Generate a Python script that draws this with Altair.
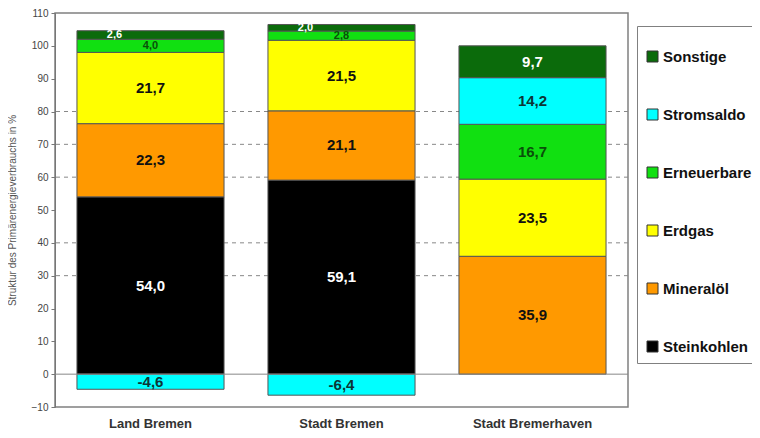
import altair as alt
import pandas as pd

regions = ["Land Bremen", "Stadt Bremen", "Stadt Bremerhaven"]
carriers = ["Steinkohlen", "Mineralöl", "Erdgas", "Erneuerbare", "Stromsaldo", "Sonstige"]
land_bremen = [54.0, 22.3, 21.7, 4.0, -4.6, 2.6]
stadt_bremen = [59.1, 21.1, 21.5, 2.8, -6.4, 2.0]
stadt_bremerhaven = [0.0, 35.9, 23.5, 16.7, 14.2, 9.7]

legend_order = ["Sonstige", "Stromsaldo", "Erneuerbare", "Erdgas", "Mineralöl", "Steinkohlen"]
colors = ["#0b6b0b", "#00ffff", "#11e011", "#ffff00", "#ff9900", "#000000"]
label_colors = {"Steinkohlen": "#ffffff", "Mineralöl": "#111111", "Erdgas": "#111111",
                "Erneuerbare": "#0a4f0a", "Stromsaldo": "#0d3535", "Sonstige": "#ffffff"}
grid_values = [30, 40, 60, 70, 80]
y_ticks = list(range(-10, 111, 10))

rows = []
for region, vals in zip(regions, [land_bremen, stadt_bremen, stadt_bremerhaven]):
    for i, (c, v) in enumerate(zip(carriers, vals)):
        if v == 0:
            continue
        small = 0 < v < 4.5
        rows.append({
            "region": region, "carrier": c, "value": v, "order": i,
            "label": f"{v:.1f}".replace(".", ","),
            "lc": label_colors[c],
            "fs": 11 if small else 15,
            "shift": bool(small and c == "Sonstige"),
        })
df = pd.DataFrame(rows)

yscale = alt.Scale(domain=[-10, 110], nice=False)
yaxis = alt.Axis(values=y_ticks, grid=False, labelOverlap=False, labelFlush=False,
                 title="Struktur des Primärenergieverbrauchs in %",
                 titleFont="Liberation Sans", titleFontSize=10,
                 titleFontWeight="normal", titleColor="#555555",
                 titlePadding=14, labelFont="Liberation Sans",
                 labelFontSize=10, labelColor="#444444",
                 tickColor="#777777", domainColor="#777777",
                 tickSize=4, labelPadding=3)
xaxis = alt.Axis(labelFont="Liberation Sans", labelFontWeight="bold",
                 labelFontSize=13, labelColor="#333333", ticks=False,
                 domain=False, labelPadding=10, labelAngle=0)
xscale = alt.Scale(paddingInner=0.23, paddingOuter=0.115)

base = alt.Chart(df).transform_stack(
    stack="value", groupby=["region"], as_=["y0", "y1"],
    sort=[alt.SortField("order", order="ascending")]
)

bars = base.mark_bar(stroke="#555555", strokeWidth=1).encode(
    x=alt.X("region:N", sort=regions, title=None, scale=xscale, axis=xaxis),
    y=alt.Y("y0:Q", scale=yscale, axis=yaxis),
    y2="y1:Q",
    color=alt.Color("carrier:N",
                    scale=alt.Scale(domain=legend_order, range=colors),
                    legend=alt.Legend(title=" ")),
)

text_enc = dict(
    x=alt.X("region:N", sort=regions, title=None, scale=xscale, axis=xaxis),
    y=alt.Y("mid:Q", scale=yscale, axis=yaxis),
    text="label:N",
    color=alt.Color("lc:N", scale=None),
    size=alt.Size("fs:Q", scale=None),
)
tbase = base.transform_calculate(mid="(datum.y0 + datum.y1) / 2")
texts = tbase.transform_filter("!datum.shift").mark_text(
    font="Liberation Sans", fontWeight="bold").encode(**text_enc)
texts_shift = tbase.transform_filter("datum.shift").mark_text(
    font="Liberation Sans", fontWeight="bold", dx=-36).encode(**text_enc)

grid = alt.Chart(pd.DataFrame({"v": grid_values})).mark_rule(
    color="#888888", strokeDash=[4, 4], strokeWidth=1
).encode(y=alt.Y("v:Q", scale=yscale, axis=yaxis))

zero = alt.Chart(pd.DataFrame({"v": [0]})).mark_rule(
    color="#888888", strokeWidth=1
).encode(y=alt.Y("v:Q", scale=yscale, axis=yaxis))

chart = alt.layer(grid, bars, zero, texts, texts_shift).properties(
    width=573, height=394,
    autosize=alt.AutoSizeParams(type="none"),
    padding={"left": 47, "top": 5, "right": 124, "bottom": 31},
).configure_view(
    stroke="#808080", strokeWidth=1.5
).configure_legend(
    orient="none", legendX=582, legendY=13,
    strokeColor="#808080", fillColor="#ffffff", padding=8,
    titleFontSize=8, titlePadding=7,
    symbolType="square", symbolSize=121, symbolStrokeColor="#333333",
    symbolStrokeWidth=1, labelFont="Liberation Sans", labelFontWeight="bold",
    labelFontSize=15, labelColor="#111111", rowPadding=42, labelOffset=3,
    labelLimit=200,
)

chart.save("out.html", embed_options={"renderer": "svg", "actions": False})
